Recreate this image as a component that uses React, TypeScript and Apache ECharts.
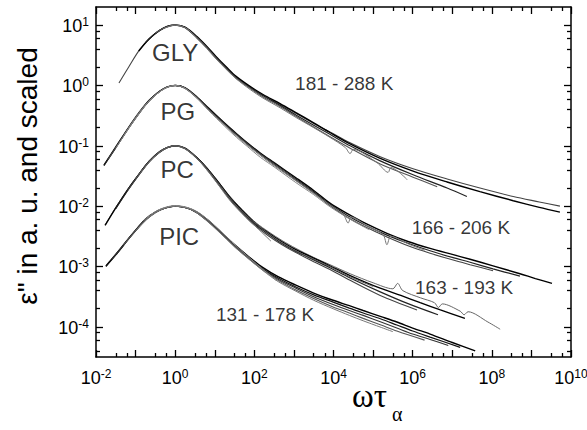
import React, { useEffect, useRef } from "react";
import * as echarts from "echarts";

// All values are decimal logarithms: x = log10(ωτα), y = log10(ε'')
const X_MIN = -2;
const X_MAX = 10;
const Y_MIN = -4.5;
const Y_MAX = 1.3;
const X_MAJOR_TICKS = [-2, -1, 0, 1, 2, 3, 4, 5, 6, 7, 8, 9, 10];
const X_TICK_LABELS = [-2, 0, 2, 4, 6, 8, 10];
const X_MINOR_OFFSETS = [0.5, 0.78];
const Y_MAJOR_TICKS = [-4, -3, -2, -1, 0, 1];
const Y_MINOR_FACTORS = [2, 4, 6, 8];

type Pt = [number, number];

// ---- GLY (181 - 288 K), peak at 10^1
const GLY_A: Pt[] = [[-1.42,0.04],[-1.17,0.31],[-0.91,0.58],[-0.66,0.77],[-0.4,0.91],[-0.2,0.98],[0,1.0],[0.25,0.96],[0.55,0.8],[0.8,0.64],[1.03,0.47],[1.3,0.29],[1.54,0.14],[1.9,-0.03],[2.22,-0.16],[2.65,-0.31],[3.05,-0.46],[3.5,-0.63],[3.91,-0.77],[4.42,-0.95],[5.18,-1.18],[6.01,-1.38],[6.87,-1.55],[7.7,-1.7],[8.54,-1.84],[9.2,-1.93],[9.72,-2.0]];
const GLY_B: Pt[] = [[-0.92,0.57],[-0.66,0.77],[-0.4,0.91],[-0.2,0.98],[0,1.0],[0.25,0.965],[0.55,0.81],[0.8,0.645],[1.03,0.48],[1.3,0.3],[1.54,0.15],[1.9,-0.02],[2.22,-0.15],[2.65,-0.3],[3.05,-0.45],[3.5,-0.62],[3.91,-0.78],[4.42,-0.97],[5.18,-1.21],[6.01,-1.42],[6.87,-1.6],[7.7,-1.76],[8.54,-1.91],[9.2,-2.02],[9.72,-2.1]];
const GLY_C: Pt[] = [[-0.75,0.71],[-0.5,0.86],[-0.25,0.96],[0,1.0],[0.25,0.96],[0.55,0.79],[0.8,0.63],[1.03,0.46],[1.3,0.28],[1.54,0.13],[1.9,-0.04],[2.22,-0.17],[2.65,-0.33],[3.05,-0.49],[3.5,-0.66],[3.91,-0.81],[4.42,-1.0],[5.18,-1.25],[6.01,-1.48],[6.87,-1.7],[7.37,-1.84]];
const GLY_D: Pt[] = [[-0.5,0.87],[-0.25,0.96],[0,1.0],[0.25,0.955],[0.55,0.79],[0.8,0.625],[1.03,0.455],[1.3,0.27],[1.54,0.12],[1.9,-0.05],[2.22,-0.19],[2.65,-0.35],[3.05,-0.51],[3.5,-0.69],[3.91,-0.85],[4.42,-1.04],[5.18,-1.3],[6.01,-1.52],[6.62,-1.68]];
const GLY_E: Pt[] = [[-0.3,0.94],[0,1.0],[0.3,0.94],[0.55,0.78],[0.8,0.61],[1.03,0.44],[1.3,0.26],[1.54,0.11],[1.9,-0.07],[2.22,-0.21],[2.65,-0.37],[3.05,-0.53],[3.5,-0.7],[3.91,-0.86],[4.3,-1.03],[4.42,-1.13],[4.5,-1.06],[5.1,-1.28],[5.38,-1.44],[5.45,-1.36],[5.86,-1.56]];

// ---- PG (166 - 206 K), peak at 10^0
const PG_A: Pt[] = [[-1.8,-1.32],[-1.5,-1.02],[-1.17,-0.69],[-0.9,-0.44],[-0.66,-0.25],[-0.4,-0.1],[-0.2,-0.025],[0,0],[0.25,-0.04],[0.55,-0.19],[0.85,-0.38],[1.24,-0.62],[1.55,-0.8],[1.82,-0.95],[2.15,-1.12],[2.5,-1.28],[3.05,-1.53],[3.5,-1.74],[3.91,-1.95],[4.34,-2.12],[4.85,-2.3],[5.35,-2.45],[5.9,-2.59],[6.44,-2.7],[7.0,-2.8],[7.45,-2.88],[8.03,-2.99],[8.71,-3.12],[9.1,-3.2],[9.52,-3.28]];
const PG_B: Pt[] = [[-1.8,-1.33],[-1.5,-1.03],[-1.17,-0.7],[-0.9,-0.45],[-0.66,-0.25],[-0.4,-0.1],[-0.2,-0.025],[0,0],[0.25,-0.04],[0.55,-0.2],[0.85,-0.39],[1.24,-0.63],[1.55,-0.81],[1.82,-0.96],[2.15,-1.13],[2.5,-1.29],[3.05,-1.55],[3.5,-1.76],[3.91,-1.97],[4.34,-2.15],[4.85,-2.33],[5.35,-2.48],[5.9,-2.62],[6.44,-2.74],[7.0,-2.85],[7.45,-2.93],[8.03,-3.04],[8.71,-3.16]];
const PG_C: Pt[] = [[-1.7,-1.23],[-1.45,-0.98],[-1.17,-0.7],[-0.9,-0.45],[-0.66,-0.26],[-0.4,-0.1],[-0.2,-0.03],[0,0],[0.25,-0.045],[0.55,-0.2],[0.85,-0.4],[1.24,-0.64],[1.55,-0.82],[1.82,-0.97],[2.15,-1.14],[2.5,-1.31],[3.05,-1.57],[3.5,-1.78],[3.91,-1.99],[4.34,-2.18],[4.85,-2.36],[5.35,-2.51],[5.9,-2.66],[6.44,-2.78],[7.0,-2.89],[7.45,-2.97],[8.03,-3.07]];
const PG_D: Pt[] = [[-1.3,-0.83],[-1.0,-0.53],[-0.7,-0.28],[-0.4,-0.11],[-0.2,-0.03],[0,0],[0.25,-0.045],[0.55,-0.21],[0.85,-0.41],[1.24,-0.65],[1.55,-0.84],[1.82,-0.99],[2.15,-1.16],[2.5,-1.33],[3.05,-1.58],[3.5,-1.79],[3.91,-1.98],[4.25,-2.14],[4.37,-2.28],[4.45,-2.18],[4.85,-2.33],[5.25,-2.47],[5.35,-2.64],[5.45,-2.5],[5.9,-2.63],[6.3,-2.73]];
const PG_E: Pt[] = [[-1.5,-1.04],[-1.17,-0.71],[-0.9,-0.46],[-0.66,-0.26],[-0.4,-0.11],[-0.2,-0.03],[0,0],[0.25,-0.05],[0.55,-0.21],[0.85,-0.42],[1.24,-0.67],[1.55,-0.86],[1.82,-1.01],[2.15,-1.19],[2.5,-1.35],[3.05,-1.61],[3.5,-1.81],[3.91,-2.01],[4.4,-2.21],[4.9,-2.39]];

// ---- PC (163 - 193 K), peak at 10^-1
const PC_A: Pt[] = [[-1.77,-2.31],[-1.5,-2.02],[-1.17,-1.69],[-0.9,-1.45],[-0.66,-1.25],[-0.4,-1.1],[-0.2,-1.025],[0,-1.0],[0.25,-1.04],[0.55,-1.19],[0.8,-1.36],[1.06,-1.57],[1.4,-1.85],[1.79,-2.12],[2.05,-2.28],[2.37,-2.43],[2.7,-2.57],[3.05,-2.7],[3.5,-2.85],[3.91,-2.97],[4.42,-3.12],[5.0,-3.27],[5.5,-3.37],[5.62,-3.28],[5.75,-3.4],[6.2,-3.52],[6.55,-3.6],[6.65,-3.68],[6.75,-3.62],[7.2,-3.74],[7.3,-3.8],[7.4,-3.75],[7.9,-3.92],[8.21,-4.04]];
const PC_B: Pt[] = [[-1.77,-2.32],[-1.5,-2.03],[-1.17,-1.7],[-0.9,-1.46],[-0.66,-1.26],[-0.4,-1.1],[-0.2,-1.03],[0,-1.0],[0.25,-1.04],[0.55,-1.2],[0.8,-1.37],[1.06,-1.58],[1.4,-1.87],[1.79,-2.14],[2.05,-2.3],[2.37,-2.45],[2.7,-2.59],[3.05,-2.72],[3.5,-2.86],[3.91,-2.99],[4.42,-3.15],[5.18,-3.36],[5.7,-3.48],[6.19,-3.6],[6.7,-3.72],[7.32,-3.86]];
const PC_C: Pt[] = [[-1.5,-2.04],[-1.17,-1.71],[-0.9,-1.46],[-0.66,-1.26],[-0.4,-1.11],[-0.2,-1.03],[0,-1.0],[0.25,-1.045],[0.55,-1.2],[0.8,-1.38],[1.06,-1.6],[1.4,-1.89],[1.79,-2.16],[2.05,-2.32],[2.37,-2.47],[2.7,-2.62],[3.05,-2.75],[3.5,-2.89],[3.91,-3.02],[4.42,-3.19],[5.18,-3.42],[5.9,-3.62],[6.64,-3.8]];
const PC_D: Pt[] = [[-1.2,-1.74],[-0.9,-1.47],[-0.66,-1.27],[-0.4,-1.11],[-0.2,-1.03],[0,-1.0],[0.25,-1.05],[0.55,-1.21],[0.8,-1.39],[1.06,-1.61],[1.4,-1.9],[1.79,-2.18],[2.05,-2.34],[2.37,-2.5],[2.7,-2.64],[3.05,-2.77],[3.5,-2.92],[3.91,-3.05],[4.42,-3.23],[5.18,-3.48],[6.11,-3.72]];
const PC_E: Pt[] = [[-0.9,-1.47],[-0.66,-1.27],[-0.4,-1.11],[-0.2,-1.03],[0,-1.0],[0.25,-1.05],[0.55,-1.21],[0.8,-1.4],[1.06,-1.62],[1.4,-1.92],[1.79,-2.19],[2.1,-2.38],[2.42,-2.58]];
const PC_F: Pt[] = [[-1.0,-1.55],[-0.66,-1.26],[-0.4,-1.1],[-0.2,-1.03],[0,-1.0],[0.25,-1.04],[0.55,-1.2],[0.8,-1.38],[1.06,-1.59],[1.4,-1.88],[1.79,-2.15],[2.37,-2.46],[3.05,-2.74],[3.5,-2.88],[3.91,-3.0],[4.42,-3.17],[5.0,-3.33]];

// ---- PIC (131 - 178 K), peak at 10^-2
const PIC_A: Pt[] = [[-1.75,-2.99],[-1.45,-2.76],[-1.17,-2.53],[-0.95,-2.36],[-0.74,-2.21],[-0.5,-2.1],[-0.25,-2.03],[0,-2.0],[0.3,-2.03],[0.55,-2.1],[0.8,-2.22],[1.06,-2.37],[1.3,-2.52],[1.54,-2.66],[1.9,-2.86],[2.22,-3.02],[2.6,-3.17],[3.05,-3.31],[3.5,-3.44],[3.99,-3.56],[4.4,-3.65],[4.75,-3.73],[5.2,-3.83],[5.6,-3.92],[6.0,-4.02],[6.44,-4.12],[7.0,-4.26],[7.58,-4.4]];
const PIC_B: Pt[] = [[-1.75,-3.0],[-1.45,-2.77],[-1.17,-2.54],[-0.95,-2.37],[-0.74,-2.22],[-0.5,-2.1],[-0.25,-2.03],[0,-2.0],[0.3,-2.03],[0.55,-2.11],[0.8,-2.23],[1.06,-2.38],[1.3,-2.53],[1.54,-2.67],[1.9,-2.87],[2.22,-3.04],[2.6,-3.19],[3.05,-3.34],[3.5,-3.47],[3.99,-3.59],[4.4,-3.69],[4.75,-3.77],[5.2,-3.87],[5.6,-3.97],[6.0,-4.07],[6.44,-4.17],[7.2,-4.34]];
const PIC_C: Pt[] = [[-1.6,-2.88],[-1.3,-2.64],[-1.0,-2.4],[-0.74,-2.22],[-0.5,-2.1],[-0.25,-2.03],[0,-2.0],[0.3,-2.03],[0.55,-2.11],[0.8,-2.23],[1.06,-2.38],[1.3,-2.53],[1.54,-2.68],[1.9,-2.88],[2.22,-3.05],[2.6,-3.21],[3.05,-3.36],[3.5,-3.5],[3.99,-3.63],[4.4,-3.73],[4.75,-3.81],[5.2,-3.92],[5.6,-4.02],[6.0,-4.12],[6.44,-4.21],[6.9,-4.31]];
const PIC_D: Pt[] = [[-1.3,-2.64],[-1.0,-2.41],[-0.74,-2.23],[-0.5,-2.11],[-0.25,-2.03],[0,-2.0],[0.3,-2.03],[0.55,-2.11],[0.8,-2.24],[1.06,-2.39],[1.3,-2.54],[1.54,-2.69],[1.9,-2.89],[2.22,-3.06],[2.6,-3.23],[3.05,-3.39],[3.5,-3.53],[3.99,-3.67],[4.4,-3.77],[4.75,-3.86],[5.2,-3.97],[5.6,-4.07],[6.3,-4.22]];
const PIC_E: Pt[] = [[-1.0,-2.41],[-0.74,-2.23],[-0.5,-2.11],[-0.25,-2.03],[0,-2.0],[0.3,-2.03],[0.55,-2.11],[0.8,-2.24],[1.06,-2.4],[1.3,-2.55],[1.54,-2.7],[1.9,-2.9],[2.22,-3.07],[2.6,-3.25],[3.05,-3.41],[3.5,-3.56],[3.99,-3.7],[4.4,-3.81],[4.75,-3.9],[5.5,-4.08]];
const PIC_F: Pt[] = [[-0.8,-2.24],[-0.5,-2.09],[-0.25,-2.02],[0,-1.99],[0.3,-2.02],[0.55,-2.09],[0.8,-2.21],[1.06,-2.36],[1.54,-2.66],[1.9,-2.87],[2.22,-3.05],[2.55,-3.23]];

const CURVES: { data: Pt[]; color: string; width: number }[] = [
  { data: GLY_A, color: "#444", width: 1.1 }, { data: GLY_B, color: "#000", width: 1.4 }, { data: GLY_C, color: "#222", width: 1.2 }, { data: GLY_D, color: "#555", width: 1.1 }, { data: GLY_E, color: "#777", width: 1 },
  { data: PG_A, color: "#000", width: 1.4 }, { data: PG_B, color: "#222", width: 1.2 }, { data: PG_C, color: "#444", width: 1.1 }, { data: PG_D, color: "#777", width: 1 }, { data: PG_E, color: "#888", width: 1 },
  { data: PC_A, color: "#666", width: 1 }, { data: PC_B, color: "#000", width: 1.4 }, { data: PC_C, color: "#222", width: 1.2 }, { data: PC_D, color: "#444", width: 1.1 }, { data: PC_E, color: "#777", width: 1 }, { data: PC_F, color: "#555", width: 1 },
  { data: PIC_A, color: "#000", width: 1.4 }, { data: PIC_B, color: "#111", width: 1.2 }, { data: PIC_C, color: "#333", width: 1.1 }, { data: PIC_D, color: "#555", width: 1.1 }, { data: PIC_E, color: "#777", width: 1 }, { data: PIC_F, color: "#888", width: 1 },
];

// in-plot annotations (positions in the same log units)
const NOTE_TEXT = ["GLY", "PG", "PC", "PIC", "181 - 288 K", "166 - 206 K", "163 - 193 K", "131 - 178 K"];
const NOTE_X = [0.0, 0.07, 0.05, 0.1, 4.27, 7.22, 7.3, 2.27];
const NOTE_Y = [0.55, -0.43, -1.39, -2.51, 0.04, -2.36, -3.35, -3.79];
const NOTE_SIZE = [24, 24, 24, 24, 19, 19, 19, 19];

const SANS = '"Liberation Sans", Arial, sans-serif';
const SERIF = '"Liberation Serif", "Times New Roman", serif';

export default function App() {
  const ref = useRef<HTMLDivElement>(null);
  useEffect(() => {
    if (!ref.current) return;
    const chart = echarts.init(ref.current, undefined, { renderer: "svg" });

    const xMinor: number[] = [];
    for (let d = X_MIN; d < X_MAX; d++) for (const o of X_MINOR_OFFSETS) xMinor.push(d + o);
    const yMinor: number[] = [];
    for (let d = Math.floor(Y_MIN) - 1; d <= Math.ceil(Y_MAX); d++)
      for (const f of Y_MINOR_FACTORS) {
        const v = d + Math.log10(f);
        if (v > Y_MIN + 0.01 && v < Y_MAX - 0.01) yMinor.push(v);
      }

    const rich = {
      b: { fontSize: 18, lineHeight: 18, padding: [2, 0, 0, 0], fontFamily: SANS, color: "#000" },
      s: { fontSize: 12, lineHeight: 12, verticalAlign: "top", fontFamily: SANS, color: "#000" },
    };
    const fmt = (v: number) => `{b|10}{s|${v}}`;
    const lineStyle = { color: "#000", width: 1.5 };
    const tickStyle = { color: "#000", width: 1.3 };

    const mkX = (pos: "bottom" | "top", minor: boolean, labels: boolean) => ({
      type: "value", min: X_MIN, max: X_MAX, position: pos,
      axisLine: { show: !minor, onZero: false, lineStyle },
      axisTick: { show: true, inside: true, length: minor ? 4 : 7, customValues: minor ? xMinor : X_MAJOR_TICKS, lineStyle: tickStyle },
      axisLabel: labels ? { show: true, customValues: X_TICK_LABELS, formatter: fmt, rich, margin: 11 } : { show: false },
      splitLine: { show: false },
    });
    const mkY = (pos: "left" | "right", minor: boolean, labels: boolean) => ({
      type: "value", min: Y_MIN, max: Y_MAX, position: pos,
      axisLine: { show: !minor, onZero: false, lineStyle },
      axisTick: { show: true, inside: true, length: minor ? 4 : 7, customValues: minor ? yMinor : Y_MAJOR_TICKS, lineStyle: tickStyle },
      axisLabel: labels ? { show: true, customValues: Y_MAJOR_TICKS, formatter: fmt, rich, margin: 7 } : { show: false },
      splitLine: { show: false },
    });

    const series: any[] = CURVES.map((c) => ({
      type: "line", data: c.data, xAxisIndex: 0, yAxisIndex: 0,
      showSymbol: false, symbol: "none", smooth: 0.3, silent: true,
      lineStyle: { width: c.width, color: c.color },
    }));
    series.push({
      type: "scatter", xAxisIndex: 0, yAxisIndex: 0, symbolSize: 1, silent: true, z: 10,
      itemStyle: { color: "rgba(0,0,0,0)" },
      data: NOTE_TEXT.map((t, i) => ({
        name: t, value: [NOTE_X[i], NOTE_Y[i]],
        label: { show: true, position: "inside", formatter: "{b}", fontSize: NOTE_SIZE[i], fontFamily: SANS, color: "#000" },
      })),
    });

    chart.setOption({
      animation: false,
      backgroundColor: "#fff",
      grid: { left: 96, right: 16, top: 7, bottom: 73, containLabel: false, outerBoundsMode: "none" },
      xAxis: [mkX("bottom", false, true), mkX("bottom", true, false), mkX("top", false, false), mkX("top", true, false)],
      yAxis: [mkY("left", false, true), mkY("left", true, false), mkY("right", false, false), mkY("right", true, false)],
      series,
      graphic: [
        {
          type: "text", x: 27, y: 176, rotation: Math.PI / 2,
          style: { text: 'ε" in a. u. and scaled', font: `28px ${SANS}`, fill: "#000", textAlign: "center", textVerticalAlign: "middle" },
        },
        {
          type: "text", x: 352, y: 396,
          style: { text: "ωτ", font: `33px ${SERIF}`, fill: "#000", textAlign: "left", textVerticalAlign: "middle" },
        },
        {
          type: "text", x: 392, y: 414,
          style: { text: "α", font: `20px ${SERIF}`, fill: "#000", textAlign: "left", textVerticalAlign: "middle" },
        },
      ],
    });
    return () => chart.dispose();
  }, []);
  return <div ref={ref} style={{ position: "fixed", left: 0, top: 0, width: 587, height: 430, background: "#fff" }} />;
}
